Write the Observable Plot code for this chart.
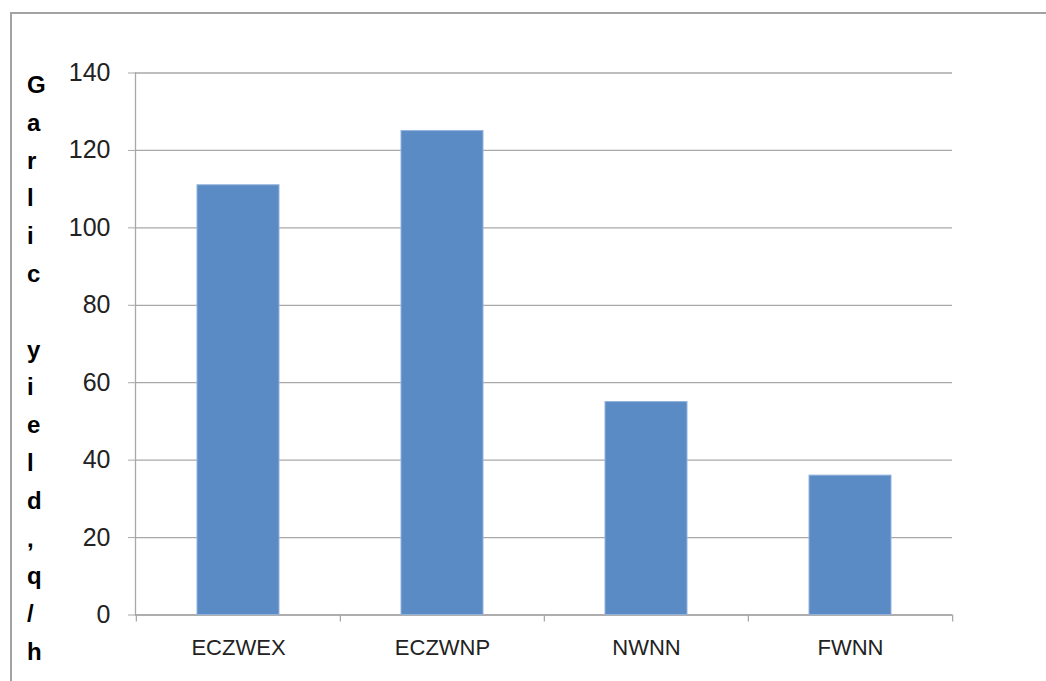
<!DOCTYPE html>
<html>
<head>
<meta charset="utf-8">
<script src="https://cdn.jsdelivr.net/npm/d3@7"></script>
<script src="https://cdn.jsdelivr.net/npm/@observablehq/plot@0.6"></script>
<style>
  html, body { margin: 0; padding: 0; background: #fff; }
  #wrap { position: relative; width: 1046px; height: 681px; overflow: hidden; }
  #border { position: absolute; left: 10px; top: 12px; width: 1100px; height: 700px; border: 2px solid #a3a3a3; box-sizing: border-box; }
  #ylabel { position: absolute; left: 27px; top: 66px; width: 30px; text-align: left; white-space: pre; font: bold 24px "Liberation Sans", Arial, sans-serif; line-height: 37.8px; color: #000; }
  #chart { position: absolute; left: 0; top: 0; }
</style>
</head>
<body>
<div id="wrap">
  <div id="border"></div>
  <div id="chart"></div>
  <div id="ylabel"></div>
</div>
<script>
const categories = ["ECZWEX", "ECZWNP", "NWNN", "FWNN"];
const yields = [111, 125, 55, 36];
const yTicks = [0, 20, 40, 60, 80, 100, 120, 140];
const yLabel = "Garlic yield, q/h";

const data = categories.map((c, i) => ({category: c, value: yields[i]}));

const W = 1046, H = 681;
const mL = 135, mR = 94, mT = 72.5, mB = 66.5;
const padIn = 0.6, padOut = 0.3;
const step = (W - mL - mR) / (categories.length - padIn + 2 * padOut);
const grid = "#a8a8a8";

const chart = Plot.plot({
  width: W,
  height: H,
  marginLeft: mL,
  marginRight: mR,
  marginTop: mT,
  marginBottom: mB,
  style: {fontFamily: "'Liberation Sans', Arial, sans-serif", background: "transparent"},
  x: {domain: categories, paddingInner: padIn, paddingOuter: padOut},
  y: {domain: [0, 140]},
  marks: [
    Plot.gridY(yTicks, {stroke: grid, strokeOpacity: 1, strokeWidth: 1.3}),
    Plot.axisY(yTicks, {tickSize: 7, tickPadding: 18, stroke: grid, fontSize: 25, fill: "#222", label: null}),
    Plot.axisX({tickSize: 0, tickPadding: 24, fontSize: 22, fill: "#222", label: null}),
    Plot.frame({anchor: "left", stroke: grid, strokeWidth: 1.3}),
    Plot.ruleY([0], {stroke: grid, strokeWidth: 1.3}),
    Plot.ruleX(categories, {x: d => d, dx: -step / 2, y: 0, dy: 3.5, stroke: grid, strokeWidth: 1.3, insetTop: -3.5, insetBottom: -3.5}),
    Plot.ruleX(categories.slice(-1), {x: d => d, dx: step / 2, y: 0, dy: 3.5, stroke: grid, strokeWidth: 1.3, insetTop: -3.5, insetBottom: -3.5}),
    Plot.barY(data, {x: "category", y: "value", fill: "#5b8bc4", stroke: "#93b2dc", strokeWidth: 1})
  ]
});

document.getElementById("chart").appendChild(chart);
// one letter per line; the word gap shows as an empty line, the space after the comma does not
document.getElementById("ylabel").textContent = yLabel.replace(", ", ",").split("").map(ch => ch === " " ? "" : ch).join("\n");
</script>
</body>
</html>
